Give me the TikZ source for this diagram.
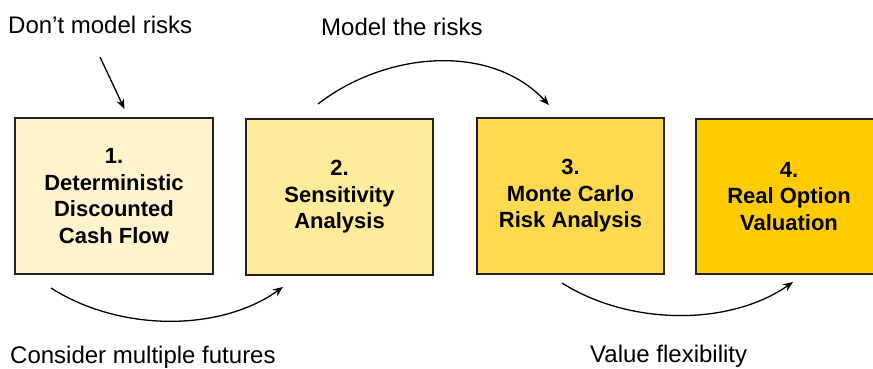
\documentclass[tikz,border=0pt]{standalone}
\usepackage{fontspec}
\setmainfont{Liberation Sans}
\usetikzlibrary{arrows.meta}
\definecolor{stageA}{HTML}{FFF4CE}
\definecolor{stageB}{HTML}{FFEB9C}
\definecolor{stageC}{HTML}{FFDA50}
\definecolor{stageD}{HTML}{FFCC00}
\definecolor{frame}{HTML}{222222}
\tikzset{
  stagebox/.style={draw=frame, line width=1.5pt, inner sep=0pt, align=center,
    font=\fontsize{22}{26.5}\selectfont\bfseries},
  note/.style={inner sep=0pt, font=\fontsize{24}{28}\selectfont},
  flow/.style={line width=1.3pt, -{Stealth[length=10pt,width=8pt]}}
}
\begin{document}
\begin{tikzpicture}[x=1pt,y=-1pt]
\useasboundingbox (0,0) rectangle (873,369);
% the four stages
\node[stagebox, fill=stageA, minimum width=198pt, minimum height=156pt] (s1) at (114,196)
  {1.\\Deterministic\\Discounted\\Cash Flow};
\node[stagebox, fill=stageB, minimum width=187pt, minimum height=156pt] (s2) at (339.5,197)
  {2.\\Sensitivity\\Analysis};
\node[stagebox, fill=stageC, minimum width=187pt, minimum height=156pt] (s3) at (570.5,196)
  {3.\\Monte Carlo\\Risk Analysis};
\node[stagebox, fill=stageD, minimum width=186pt, minimum height=155pt] (s4) at (789,196.5)
  {4.\\Real Option\\Valuation};
% annotations
\node[note, anchor=base west] (t1) at (8,34) {Don’t model risks};
\node[note, anchor=base west] (t2) at (321,36) {Model the risks};
\node[note, anchor=base west] (t3) at (10,363) {Consider multiple futures};
\node[note, anchor=base west] (t4) at (590,362) {Value flexibility};
% arrow end points
\coordinate (a1) at (100,57);   \coordinate (b1) at (124.5,109);
\coordinate (a2) at (318,104);  \coordinate (b2) at (549,105);
\coordinate (a3) at (51,288);   \coordinate (b3) at (283,287);
\coordinate (a4) at (562,283);  \coordinate (b4) at (793,282);
\draw[flow] (a1) -- (b1);
\draw[flow] (a2) .. controls (385,52) and (490,42) .. (b2);
\draw[flow] (a3) .. controls (120,332) and (220,332) .. (b3);
\draw[flow] (a4) .. controls (630,326) and (730,326) .. (b4);
\end{tikzpicture}
\end{document}
